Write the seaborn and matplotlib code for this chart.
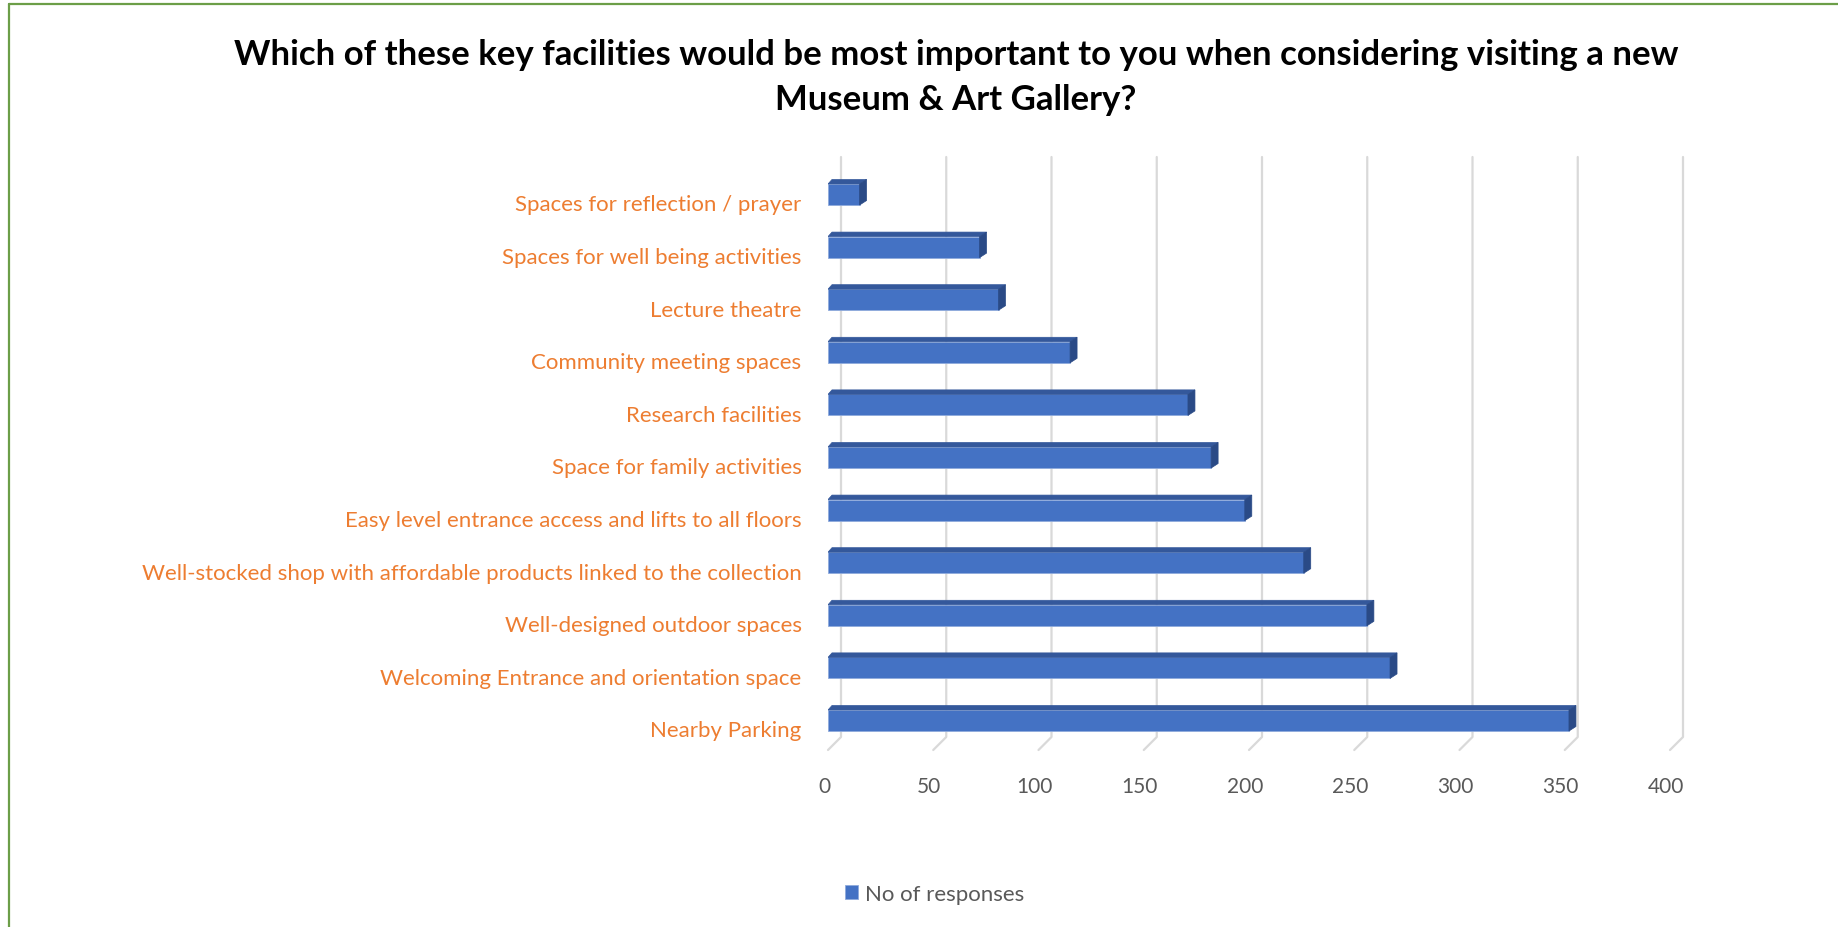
import matplotlib
matplotlib.use("Agg")
import matplotlib.pyplot as plt
from matplotlib.patches import Polygon
from matplotlib.lines import Line2D
from matplotlib.transforms import ScaledTranslation
import seaborn as sns
import pandas as pd

categories = [
    "Spaces for reflection / prayer",
    "Spaces for well being activities",
    "Lecture theatre",
    "Community meeting spaces",
    "Research facilities",
    "Space for family activities",
    "Easy level entrance access and lifts to all floors",
    "Well-stocked shop with affordable products linked to the collection",
    "Well-designed outdoor spaces",
    "Welcoming Entrance and orientation space",
    "Nearby Parking",
]
responses = [15, 72, 81, 115, 171, 182, 198, 226, 256, 267, 352]
x_ticks = [0, 50, 100, 150, 200, 250, 300, 350, 400]
series_name = "No of responses"
title_line1 = "Which of these key facilities would be most important to you when considering visiting a new"
title_line2 = "Museum & Art Gallery?"

df = pd.DataFrame({"Facility": categories, series_name: responses})

sns.set_theme(style="white")
plt.rcParams["font.family"] = ["Lato", "DejaVu Sans"]

W, H = 1838, 928
fig = plt.figure(figsize=(W / 100, H / 100), dpi=100)
fig.patch.set_facecolor("white")

# axes = front plane of the 3D plot area
ax_left, ax_right = 828, 1670
ax_top, ax_bottom = 158, 751
ax = fig.add_axes([ax_left / W, 1 - ax_bottom / H, (ax_right - ax_left) / W, (ax_bottom - ax_top) / H])

front = "#4472C4"
sns.barplot(data=df, x=series_name, y="Facility", orient="h", color=front,
            saturation=1, width=0.4, edgecolor="#8FAADC", linewidth=0.6,
            label=series_name, ax=ax, zorder=3)

ax.set_xlim(0, 400)
px_x = (ax_right - ax_left) / 400.0        # pixels per data unit in x
px_y = 52.6                                 # pixels per category
y0 = (ax_top - 195.5) / px_y
y1 = (ax_bottom - 195.5) / px_y
ax.set_ylim(y1, y0)

for s in ax.spines.values():
    s.set_visible(False)
ax.set_xlabel("")
ax.set_ylabel("")
ax.grid(False)

# back-wall gridlines with diagonal floor segment
back_dx = 13 / px_x
floor_back = (738 - 195.5) / px_y
for v in x_ticks:
    ax.add_line(Line2D([v + back_dx, v + back_dx, v], [y0, floor_back, y1],
                       color="#D9D9D9", lw=1.6, zorder=1, clip_on=False))

# 3D faces for each bar
dxl = 4 / px_x
dxr = 7 / px_x
dy = 4.5 / px_y
for p in ax.patches:
    x0 = p.get_x()
    w = p.get_width()
    yt = min(p.get_y(), p.get_y() + p.get_height())
    yb = max(p.get_y(), p.get_y() + p.get_height())
    x1 = x0 + w
    top = Polygon([(x0, yt), (x1, yt), (x1 + dxr, yt - dy), (x0 + dxl, yt - dy)],
                  closed=True, facecolor="#34589B", edgecolor="#34589B", lw=0.5, zorder=4)
    side = Polygon([(x1, yt), (x1 + dxr, yt - dy), (x1 + dxr, yb - dy), (x1, yb)],
                   closed=True, facecolor="#2A4A86", edgecolor="#2A4A86", lw=0.5, zorder=4)
    ax.add_patch(top)
    ax.add_patch(side)

ax.set_xticks(x_ticks)
ax.set_xticklabels([str(t) for t in x_ticks])
ax.tick_params(axis="x", length=0, pad=19, labelsize=15, labelcolor="#595959")
ax.tick_params(axis="y", length=0, pad=19, labelsize=16, labelcolor="#ED7D31")
for lab in ax.get_xticklabels():
    lab.set_transform(lab.get_transform() + ScaledTranslation(-4 / 100, 0, fig.dpi_scale_trans))
for lab in ax.get_yticklabels():
    lab.set_transform(lab.get_transform() + ScaledTranslation(0, -8 / 100, fig.dpi_scale_trans))

# title
fig.text(956 / W, 1 - 55 / H, title_line1, ha="center", va="center",
         fontsize=25, fontweight="bold", color="black")
fig.text(956 / W, 1 - 100 / H, title_line2, ha="center", va="center",
         fontsize=25, fontweight="bold", color="black")

# legend
leg = ax.get_legend()
if leg is not None:
    leg.remove()
handles, labels = ax.get_legend_handles_labels()
fig.legend(handles[:1], labels[:1], loc="center left", bbox_to_anchor=(845 / W, 1 - 895 / H),
           frameon=False, fontsize=16, labelcolor="#595959", handlelength=0.6,
           handleheight=0.6, handletextpad=0.3, borderpad=0, borderaxespad=0)

# green frame (top and left edges)
fig.add_artist(Line2D([9 / W, 1], [1 - 5 / H, 1 - 5 / H], transform=fig.transFigure,
                      color="#6C9E48", lw=1.6))
fig.add_artist(Line2D([9 / W, 9 / W], [0, 1 - 5 / H], transform=fig.transFigure,
                      color="#6C9E48", lw=1.6))

fig.savefig("out.png", dpi=100, facecolor="white")
